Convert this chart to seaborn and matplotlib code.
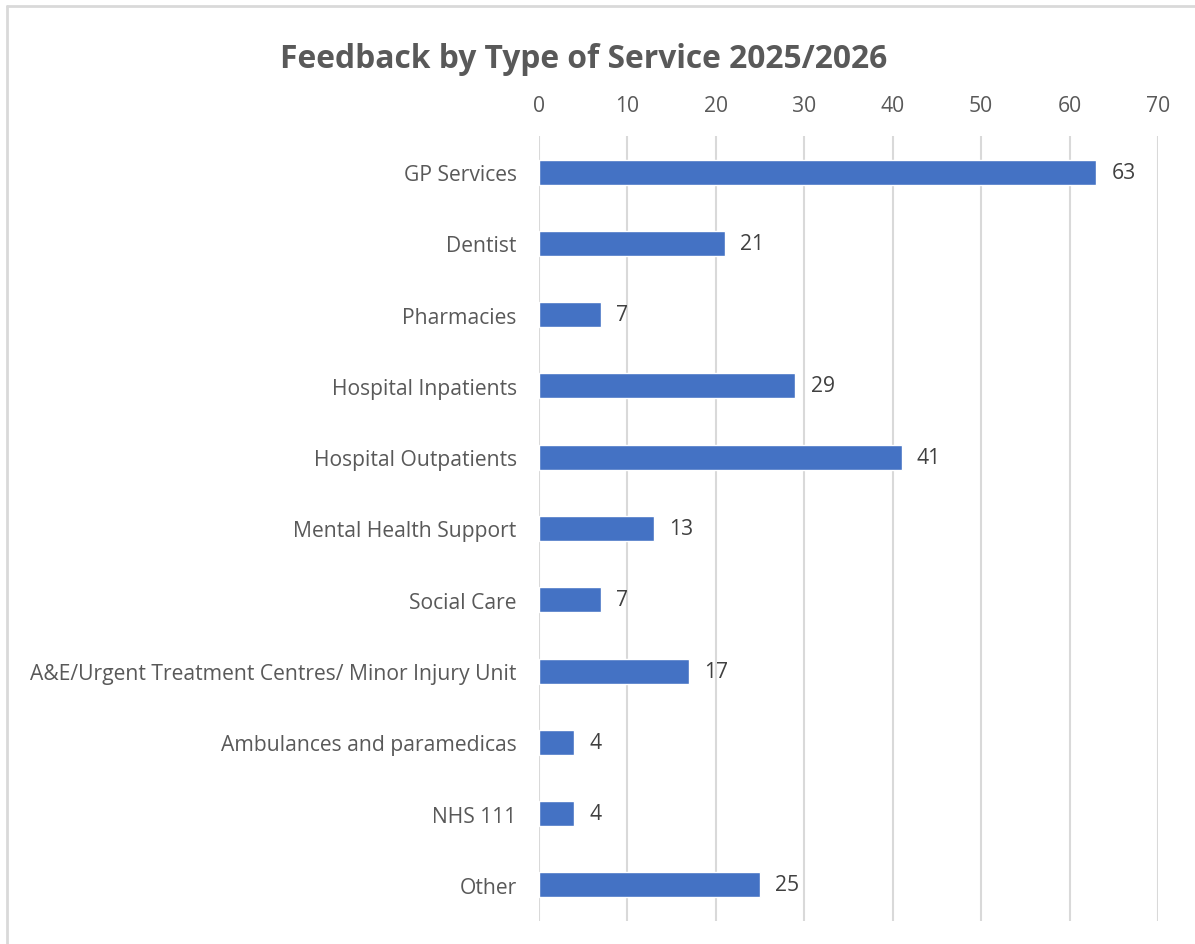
import matplotlib
matplotlib.use("Agg")
import matplotlib.pyplot as plt
import seaborn as sns
import pandas as pd
from matplotlib.lines import Line2D

categories = ["GP Services", "Dentist", "Pharmacies", "Hospital Inpatients",
              "Hospital Outpatients", "Mental Health Support", "Social Care",
              "A&E/Urgent Treatment Centres/ Minor Injury Unit",
              "Ambulances and paramedicas", "NHS 111", "Other"]
values = [63, 21, 7, 29, 41, 13, 7, 17, 4, 4, 25]
x_ticks = [0, 10, 20, 30, 40, 50, 60, 70]
title = "Feedback by Type of Service 2025/2026"

sns.set_theme(style="white")
plt.rcParams['font.family'] = ['Open Sans', 'DejaVu Sans']

df = pd.DataFrame({"category": categories, "value": values})

fig = plt.figure(figsize=(11.95, 9.45), dpi=100)
ax = fig.add_axes([0.4510, 0.0248, 0.9690 - 0.4510, 0.8546 - 0.0248])

sns.barplot(data=df, y="category", x="value", color="#4472C4", width=0.35,
            saturation=1, ax=ax, orient="h")

ax.set_xlim(0, 70)
ax.set_xticks(x_ticks)
ax.xaxis.tick_top()
ax.grid(axis="x", color="#D9D9D9", linewidth=1.5)
ax.set_axisbelow(True)
for s in ax.spines.values():
    s.set_visible(False)
ax.tick_params(axis="x", length=0, pad=15, labelsize=15.2, labelcolor="#595959")
ax.tick_params(axis="y", length=0, pad=16, labelsize=15.2, labelcolor="#595959")
ax.set_xlabel("")
ax.set_ylabel("")

for c in ax.containers:
    ax.bar_label(c, labels=[str(v) for v in values], padding=11,
                 fontsize=15.2, color="#404040")

fig.text(0.4887, 0.937, title, ha="center", va="center", fontsize=22.9,
         fontweight="bold", color="#595959")

fig.add_artist(Line2D([0.0058, 0.0058], [0, 0.9926], transform=fig.transFigure,
                      color="#D9D9D9", linewidth=2))
fig.add_artist(Line2D([0.0058, 1.0], [0.9926, 0.9926], transform=fig.transFigure,
                      color="#D9D9D9", linewidth=2))

fig.savefig("out.png", dpi=100, facecolor="white")
